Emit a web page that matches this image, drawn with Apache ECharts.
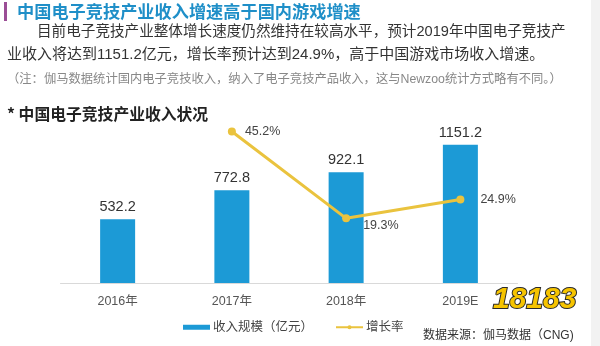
<!DOCTYPE html>
<html>
<head>
<meta charset="utf-8">
<script src="https://cdn.jsdelivr.net/npm/echarts@6/dist/echarts.min.js"></script>
<style>html,body{margin:0;padding:0;background:#fff;}#c{width:600px;height:346px;}</style>
</head>
<body>
<div id="c"></div>
<script>
var categories = ['2016年', '2017年', '2018年', '2019E'];
var revenue = [532.2, 772.8, 922.1, 1151.2];
var growth = ['-', 45.2, 19.3, 24.9];
var seriesNames = ['收入规模（亿元）', '增长率'];

var FF = 'Liberation Sans, Noto Sans CJK SC, sans-serif';
var chart = echarts.init(document.getElementById('c'));
var growthData = growth.map(function (v, i) {
  var d = { value: v };
  if (i === 2) d.label = { position: 'right', offset: [4, 7] };
  if (i === 3) d.label = { position: 'right', distance: 16 };
  return d;
});
chart.setOption({
  animation: false,
  textStyle: { fontFamily: FF },
  grid: { left: 60.5, right: 82.5, top: 91, bottom: 63 },
  legend: {
    left: 178, top: 316, itemGap: 22, itemWidth: 27, itemHeight: 5,
    textStyle: { fontSize: 12.5, color: '#444', fontFamily: FF, padding: [0, 0, 0, -2] },
    data: [
      { name: seriesNames[0], icon: 'rect' },
      { name: seriesNames[1] }
    ]
  },
  xAxis: {
    type: 'category', data: categories,
    axisLine: { lineStyle: { color: '#d9d9d9', width: 1 } },
    axisTick: { show: false },
    axisLabel: { color: '#555', fontSize: 12.5, margin: 12 }
  },
  yAxis: [
    { type: 'value', min: 0, max: 1600, show: false },
    { type: 'value', min: 0, max: 57.3, show: false }
  ],
  series: [
    {
      name: seriesNames[0], type: 'bar', data: revenue, barWidth: 35,
      itemStyle: { color: '#1C9AD6' },
      label: { show: true, position: 'top', distance: 5, color: '#333', fontSize: 14.5 }
    },
    {
      name: seriesNames[1], type: 'line', yAxisIndex: 1, data: growthData,
      symbol: 'circle', symbolSize: 8,
      lineStyle: { color: '#EAC33E', width: 3 },
      itemStyle: { color: '#EAC33E' },
      label: { show: true, position: 'right', distance: 9, color: '#444', fontSize: 12.5, formatter: '{c}%' }
    }
  ],
  graphic: [
    { type: 'rect', shape: { x: 4, y: 2, width: 3, height: 19 }, style: { fill: '#9B4E96' } },
    { type: 'rect', shape: { x: 591, y: 0, width: 9, height: 346 }, style: { fill: '#f2f2f2' } },
    { type: 'text', left: 17, top: 3, style: { text: '中国电子竞技产业收入增速高于国内游戏增速', fill: '#1F8FC8', font: 'bold 17.2px Noto Sans CJK SC' } },
    { type: 'text', left: 37, top: 25, style: { text: '目前电子竞技产业整体增长速度仍然维持在较高水平，预计2019年中国电子竞技产', fill: '#333', font: '14.6px Liberation Sans, Noto Sans CJK SC' } },
    { type: 'text', left: 7, top: 47, style: { text: '业收入将达到1151.2亿元，增长率预计达到24.9%，高于中国游戏市场收入增速。', fill: '#333', font: '15px Liberation Sans, Noto Sans CJK SC' } },
    { type: 'text', left: 7, top: 73, style: { text: '（注：伽马数据统计国内电子竞技收入，纳入了电子竞技产品收入，这与Newzoo统计方式略有不同。）', fill: '#888', font: '12.3px Liberation Sans, Noto Sans CJK SC' } },
    { type: 'text', left: 7, top: 106, style: { text: '* 中国电子竞技产业收入状况', fill: '#222', font: 'bold 15.8px Noto Sans CJK SC' } },
    { type: 'text', left: 423, top: 330, style: { text: '数据来源：伽马数据（CNG)', fill: '#333', font: '12px Liberation Sans, Noto Sans CJK SC' } },
    { type: 'text', left: 492, top: 284, style: { text: '18183', fill: '#F6C400', stroke: '#2a2a2a', lineWidth: 2, font: 'italic bold 30px Liberation Sans' } }
  ]
});
</script>
</body>
</html>
